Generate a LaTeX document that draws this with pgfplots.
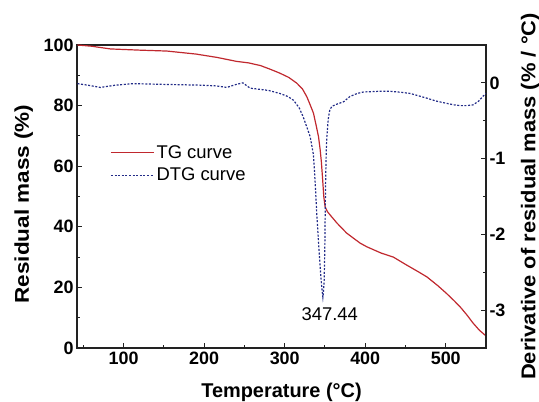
\documentclass[border=0pt]{standalone}
\usepackage{fontspec}
\setmainfont{Liberation Sans}
\usepackage{graphicx}
\usepackage{pgfplots}
\pgfplotsset{compat=1.18}
\usetikzlibrary{calc}
\definecolor{tgred}{HTML}{C0282E}
\definecolor{dtgblue}{HTML}{232C88}
\definecolor{axgray}{HTML}{222222}

\pgfplotsset{
  common/.style={
    scale only axis, width=409bp, height=303bp,
    at={(0,0)}, anchor=south west,
    xmin=42, xmax=550,
    axis line style={axgray, line width=1.2bp},
    major tick length=5bp, minor tick length=3bp,
    every tick/.style={axgray, line width=1bp},
    tick label style={font=\fontsize{18}{18}\selectfont\bfseries},
    label style={font=\fontsize{20}{20}\selectfont\bfseries},
    /pgf/number format/assume math mode=true,
  },
}

\begin{document}
\begin{tikzpicture}
\begin{axis}[common, name=main,
  ymin=0, ymax=100,
  xtick={100,200,...,500}, minor xtick={50,150,...,550},
  ytick={0,20,...,100}, minor ytick={10,30,...,90},
  xtick pos=bottom, ytick pos=left,
  xlabel={Temperature (°C)},
  ylabel={\scalebox{1.13}[1]{Residual mass (\%)}},
  xlabel style={at={(axis description cs:0.5,-0.147)}, anchor=center},
  ylabel style={at={(axis description cs:-0.13,0.475)}, anchor=center},
]
\addplot[tgred, line width=1.2bp] coordinates {
(42.6,100) (60,99.6) (83.5,98.7) (120,98.3) (153.8,98.0) (190,97.0)
(215.9,95.9) (240,94.6) (255,94.1) (270,93.2) (282,92.0) (294,90.7)
(305,89.3) (315,87.4) (322,85.5) (327.5,82.9) (332,80.0) (335.7,77.5)
(339,73.5) (342,69.7) (344,65.5) (345.5,61.5) (347,56) (348.5,50)
(350.2,46.6) (353,45.0) (356.4,43.9) (365,41.2) (377,37.9) (393.7,34.6)
(402,33.4) (420,31.3) (435,30.0) (450,27.6) (465,25.3) (476.4,23.5)
(490,20.6) (501,18) (510,15.7) (517.8,13.6) (526,11.0) (534,8.2)
(542,5.8) (550,4.0)
};
\end{axis}
\begin{axis}[common,
  ymin=-3.5, ymax=0.5,
  axis x line=none, axis y line*=right,
  ytick={-3,-2,-1,0}, yticklabels={-3,-2,-1,0},
  minor ytick={-3.5,-2.5,-1.5,-0.5,0.5},
  ylabel={\scalebox{1.1}[1]{Derivative of residual mass (\% / °C)}},
  ylabel style={at={(axis description cs:1.108,0.5)}, anchor=center},
  legend style={at={(0.081,0.675)}, anchor=north west, draw=none, fill=none,
    inner sep=0pt, row sep=4bp,
    font=\fontsize{18.5}{18.5}\selectfont},
  legend cell align=left,
  legend image code/.code={\draw[#1] (0bp,0bp) -- (43bp,0bp);},
]
\addlegendimage{tgred, line width=1.2bp}
\addlegendentry{TG curve}
\addplot[dtgblue, line width=1.2bp, dash pattern=on 2bp off 1.6bp] coordinates {
(42.6,-0.01) (55,-0.03) (71,-0.06) (90,-0.03) (112,-0.01) (150,-0.02)
(195,-0.03) (215,-0.04) (228,-0.06) (240,-0.02) (248,0.0) (257,-0.07)
(265,-0.08) (280,-0.10) (294,-0.14) (304,-0.18) (311,-0.23) (318,-0.33)
(323,-0.45) (328,-0.60) (331.6,-0.71) (335.7,-0.95) (338,-1.35) (340,-1.77)
(342,-2.1) (344,-2.43) (346,-2.7) (347.4,-2.83) (348.2,-2.75) (349,-2.6)
(349.8,-2.2) (350.2,-1.77) (350.8,-1.3) (351.6,-0.89) (352.4,-0.7)
(353.5,-0.55) (354.4,-0.45) (356,-0.36) (358.5,-0.31) (365,-0.28)
(373,-0.25) (381,-0.18) (390,-0.14) (398,-0.12) (410,-0.115) (418.5,-0.11)
(430,-0.11) (445,-0.125) (456,-0.14) (466,-0.17) (476,-0.2) (488,-0.24)
(501,-0.27) (510,-0.29) (518,-0.30) (526,-0.30) (534,-0.29) (541,-0.24)
(546,-0.18) (550,-0.14)
};
\addlegendentry{DTG curve}
\node[font=\fontsize{18.5}{18.5}\selectfont] at (axis cs:356,-3.05) {347.44};
\end{axis}
\pgfresetboundingbox
\path ($(main.south west)+(-77bp,-54bp)$) rectangle ($(main.north east)+(53bp,45bp)$);
\end{tikzpicture}
\end{document}
